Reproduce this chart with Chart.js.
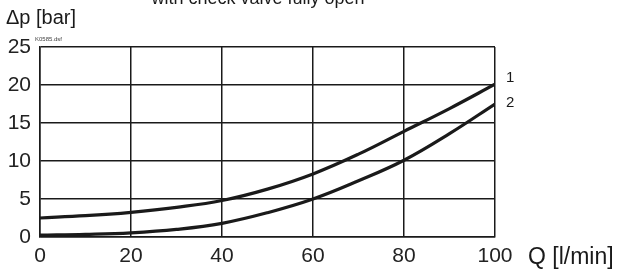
<!DOCTYPE html>
<html>
<head>
<meta charset="utf-8">
<script src="https://cdn.jsdelivr.net/npm/chart.js@4/dist/chart.umd.min.js"></script>
<style>
    html, body { margin: 0; padding: 0; background: #fff; }
    #wrap { width: 618px; height: 275px; position: relative; }
</style>
</head>
<body>
<div id="wrap"><canvas id="myChart" width="618" height="275"></canvas></div>
<script>
// flow Q [l/min] and pressure drop [bar]
const flow = [0, 10, 20, 30, 40, 50, 60, 70, 80, 90, 100];
const curve1 = [2.5, 2.8, 3.25, 3.9, 4.8, 6.3, 8.3, 10.9, 13.9, 16.9, 20.1];
const curve2 = [0.25, 0.35, 0.55, 1.0, 1.8, 3.2, 5.0, 7.4, 10.1, 13.6, 17.5];
const curveNames = ['1', '2'];
const xTicks = [0, 20, 40, 60, 80, 100];
const yTicks = [0, 5, 10, 15, 20, 25];

const ink = '#1a1a1a';
const fontName = 'Arial, "Liberation Sans", sans-serif';

function toPoints(ys) {
    return flow.map((x, i) => ({ x: x, y: ys[i] }));
}

const textPlugin = {
    id: 'texts',
    afterDraw(chart) {
        const ctx = chart.ctx;
        const xs = chart.scales.x;
        const ys = chart.scales.y;
        ctx.save();
        ctx.fillStyle = ink;
        // title, cut off at top
        ctx.font = '18px ' + fontName;
        ctx.textAlign = 'center';
        ctx.textBaseline = 'alphabetic';
        ctx.fillText('with check valve fully open', 258, 4);
        // y axis title
        ctx.font = '20px ' + fontName;
        ctx.textAlign = 'left';
        ctx.fillText('\u0394p [bar]', 6, 24);
        // x axis title
        ctx.font = '23px ' + fontName;
        ctx.fillText('Q [l/min]', 528, 264);
        // drawing id
        ctx.font = '6px ' + fontName;
        ctx.fillStyle = '#444';
        ctx.fillText('K0585.dsf', 35, 41);
        // curve labels
        ctx.fillStyle = ink;
        ctx.font = '15px ' + fontName;
        ctx.textBaseline = 'middle';
        const lastX = xs.getPixelForValue(flow[flow.length - 1]);
        ctx.fillText(curveNames[0], lastX + 11, ys.getPixelForValue(curve1[curve1.length - 1]) - 6);
        ctx.fillText(curveNames[1], lastX + 11, ys.getPixelForValue(curve2[curve2.length - 1]) - 1);
        ctx.restore();
    }
};

const ctx = document.getElementById('myChart');
const myChart = new Chart(ctx, {
    type: 'line',
    data: {
        datasets: [{
            label: curveNames[0],
            data: toPoints(curve1),
            borderColor: ink,
            borderWidth: 3.2,
            pointRadius: 0,
            tension: 0.4
        }, {
            label: curveNames[1],
            data: toPoints(curve2),
            borderColor: ink,
            borderWidth: 3.2,
            pointRadius: 0,
            tension: 0.4
        }]
    },
    options: {
        responsive: false,
        animation: false,
        layout: {
            padding: { top: 47, right: 123, left: 0, bottom: 0 }
        },
        plugins: {
            legend: { display: false },
            tooltip: { enabled: false }
        },
        scales: {
            x: {
                type: 'linear',
                min: 0,
                max: 100,
                afterBuildTicks: (s) => { s.ticks = xTicks.map(v => ({ value: v })); },
                afterFit: (s) => { s.height = 38; },
                border: { color: ink, width: 1.5 },
                grid: { color: ink, lineWidth: 1.5, drawTicks: false },
                ticks: {
                    color: '#222',
                    padding: 7,
                    font: { size: 21, family: fontName }
                }
            },
            y: {
                min: 0,
                max: 25,
                afterBuildTicks: (s) => { s.ticks = yTicks.map(v => ({ value: v })); },
                afterFit: (s) => { s.width = 40; },
                border: { color: ink, width: 1.5 },
                grid: { color: ink, lineWidth: 1.5, drawTicks: false },
                ticks: {
                    color: '#222',
                    padding: 9,
                    font: { size: 21, family: fontName }
                }
            }
        }
    },
    plugins: [textPlugin]
});
</script>
</body>
</html>
